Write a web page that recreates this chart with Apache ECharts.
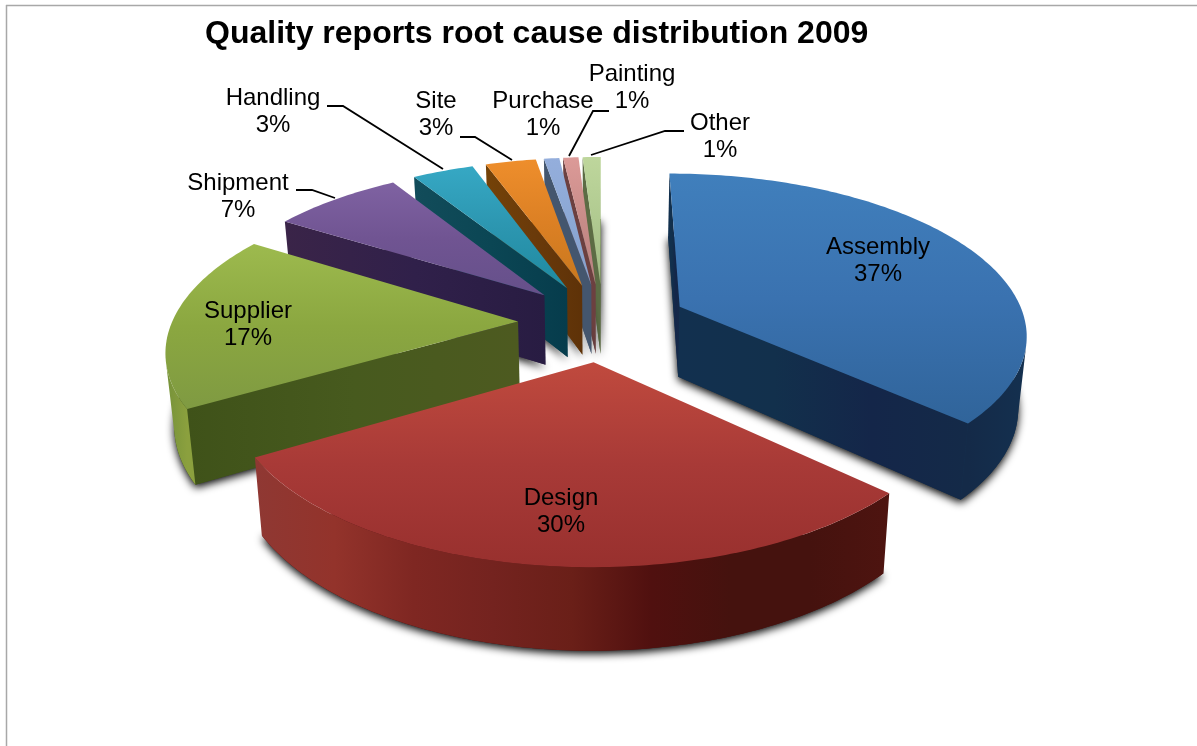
<!DOCTYPE html>
<html><head><meta charset="utf-8">
<style>html,body{margin:0;padding:0;background:#fff}#c{width:1197px;height:746px}</style>
<script src="https://cdn.jsdelivr.net/npm/echarts@6/dist/echarts.min.js"></script>
</head><body><div id="c"></div>
<script>
var titleText = 'Quality reports root cause distribution 2009';
var names = ['Assembly','Design','Supplier','Shipment','Handling','Site','Purchase','Painting','Other'];
var values = [36.9,29.6,17.4,7.2,3.4,2.8,0.85,0.85,1.0];

// label layout: [centre x, centre y of the two lines]
var labelPos = [[878,261],[561,512],[248,325],[238,197],[273,112],[436,115],[543,115],[632,88],[720,137]];
// leader lines (indexed by slice)
var leaders = {3:[[296,190],[312,190],[335,198]],
               4:[[327,106],[343,106],[443,169]],
               5:[[460,137],[475,137],[512,160]],
               7:[[609,111],[593,111],[569,156]],
               8:[[684,131],[665,131],[591,155]]};
// styles: top gradient (3 stops), cut face stops, curved wall stops
var styles = [
 {top:['#407fbc','#3a72b0','#30649a'],cut:['#12304f','#12304c','#142649','#142a48'],wall:['#142a48','#14304f']},
 {top:['#c04a3e','#a83a37','#98302e'],cut:['#4a1210','#4a1210'],wall:['#8f3833','#93332b','#7f2722','#74231f','#6a1f18','#50100f','#45120e','#45120e','#4e1410']},
 {top:['#9dba4e','#8ba740','#7f9a42'],cut:['#3f5219','#475a1e','#4d5a20'],wall:['#76923a','#8ba03e']},
 {top:['#7f62a2','#705492','#65508a'],cut:['#3a2448','#30204a','#281c42'],wall:['#3a2650','#3a2650']},
 {top:['#36a8c4','#2c96b0','#1f8aa0'],cut:['#124c5a','#0b4654','#063c4c'],wall:['#0f4a58','#0f4a58']},
 {top:['#ee8e2c','#dc8024','#c8781e'],cut:['#744208','#6a3a0a','#5e3208'],wall:['#6a3a0a','#6a3a0a']},
 {top:['#94aedc','#8ca8d4','#86a0cc'],cut:['#44566e','#44566e'],wall:['#44566e','#44566e']},
 {top:['#dc9a98','#c88c88','#b88080'],cut:['#6c4040','#6c4040'],wall:['#6c4040','#6c4040']},
 {top:['#bed69c','#b0ca90','#a0b884'],cut:['#5c6c44','#5c6c44'],wall:['#5c6c44','#5c6c44']}
];
// projection of the pie
var CX=603, CY=322, R=346, EXPLODE=85, TILT=0.458, PERSP=2200, DEPTH=71, SHRINK=0.98;
var drawOrder = [8,7,6,5,4,3,2,0,1];

var total = values.reduce(function(a,b){return a+b;},0);
var spans = [], acc = 0;
values.forEach(function(v){ var a=acc/total*2*Math.PI; acc+=v; spans.push([a,acc/total*2*Math.PI]); });

function proj(X,Y){
  var s = PERSP/(PERSP-Y);
  var x = CX+X*s, y = CY+TILT*Y*s;
  var d = DEPTH*Math.pow(s,0.75);
  return {t:[x,y], b:[CX+(x-CX)*SHRINK, y+d]};
}
function area(p){var a=0;for(var i=0;i<p.length;i++){var q=p[(i+1)%p.length];a+=p[i][0]*q[1]-q[0]*p[i][1];}return a;}
function hgrad(stops,x0,x1){
  var n=stops.length-1;
  return {type:'linear',x:x0,y:0,x2:x1,y2:0,global:true,
    colorStops:stops.map(function(c,i){return {offset:n?i/n:0,color:c};})};
}
function faceFill(stops,pts){
  var xs=pts.map(function(p){return p[0];});
  var x0=Math.min.apply(null,xs),x1=Math.max.apply(null,xs);
  return hgrad(stops,x0,x1>x0?x1:x0+1);
}
function sliceElements(i){
  var a0=spans[i][0],a1=spans[i][1],mid=(a0+a1)/2,st=styles[i];
  var ex=EXPLODE*Math.sin(mid),ey=-EXPLODE*Math.cos(mid);
  var apex=proj(ex,ey), rim=[];
  var n=Math.max(4,Math.ceil((a1-a0)/(Math.PI/180)));
  for(var k=0;k<=n;k++){
    var a=a0+(a1-a0)*k/n;
    rim.push(proj(ex+R*Math.sin(a),ey-R*Math.cos(a)));
  }
  var els=[];
  var bottom=[apex.b].concat(rim.map(function(p){return p.b;}));
  var shadowStyle={fill:st.cut[0],shadowBlur:8,shadowColor:'rgba(0,0,0,1)',shadowOffsetY:3};
  els.push({type:'polygon',shape:{points:bottom},style:shadowStyle});
  // cut faces
  var f0=[apex.t,rim[0].t,rim[0].b,apex.b], f1=[apex.t,rim[n].t,rim[n].b,apex.b];
  if(area(f0)<0) els.push({type:'polygon',shape:{points:f0},style:{fill:faceFill(st.cut,f0)}});
  if(area(f1)>0) els.push({type:'polygon',shape:{points:f1},style:{fill:faceFill(st.cut,f1)}});
  // curved wall: consecutive viewer-facing segments
  var run=[];
  function flush(){
    if(run.length>1){
      var top=run.map(function(p){return p.t;}), bot=run.map(function(p){return p.b;}).reverse();
      els.push({type:'polygon',shape:{points:top.concat(bot)},style:{fill:faceFill(st.wall,top)}});
    }
    run=[];
  }
  for(k=0;k<n;k++){
    var q=[rim[k].t,rim[k+1].t,rim[k+1].b,rim[k].b];
    if(area(q)<0){ if(!run.length) run.push(rim[k]); run.push(rim[k+1]); }
    else flush();
  }
  flush();
  // top face
  var pts=[apex.t].concat(rim.map(function(p){return p.t;}));
  var ys=pts.map(function(p){return p[1];});
  els.push({type:'polygon',shape:{points:pts},style:{
    fill:{type:'linear',x:0,y:Math.min.apply(null,ys),x2:0,y2:Math.max.apply(null,ys),global:true,
      colorStops:[{offset:0,color:st.top[0]},{offset:0.5,color:st.top[1]},{offset:1,color:st.top[2]}]}}});
  return els;
}

var chart = echarts.init(document.getElementById('c'),null,{renderer:'canvas',width:1197,height:746});
chart.setOption({
  animation:false,
  backgroundColor:'#ffffff',
  title:{text:titleText,left:205,top:18,padding:0,
    textStyle:{fontFamily:'Liberation Sans',fontWeight:'bold',fontSize:32,color:'#000'}},
  graphic:[
    {type:'line',shape:{x1:6,y1:5.5,x2:1197,y2:5.5},style:{stroke:'#a8a8a8',lineWidth:1.5}},
    {type:'line',shape:{x1:6.5,y1:5,x2:6.5,y2:746},style:{stroke:'#a8a8a8',lineWidth:1.5}}
  ],
  series:[
    {type:'custom',coordinateSystem:'none',silent:true,z:2,
     data:drawOrder.map(function(i){return {name:names[i],value:values[i]};}),
     renderItem:function(params){
       return {type:'group',children:sliceElements(drawOrder[params.dataIndex])};
     }},
    {type:'custom',coordinateSystem:'none',silent:true,z:3,
     data:names.map(function(n,i){return {name:n,value:values[i]};}),
     renderItem:function(params,api){
       var i=params.dataIndex, ch=[];
       if(leaders[i]) ch.push({type:'polyline',shape:{points:leaders[i]},style:{fill:null,stroke:'#000',lineWidth:1.8}});
       ch.push({type:'text',style:{
         text:names[i]+'\n'+Math.round(api.value(0)/total*100)+'%',
         x:labelPos[i][0],y:labelPos[i][1],align:'center',verticalAlign:'middle',
         fontFamily:'Liberation Sans',fontSize:24,lineHeight:27,fill:'#000'}});
       return {type:'group',children:ch};
     }}
  ]
});
</script></body></html>
